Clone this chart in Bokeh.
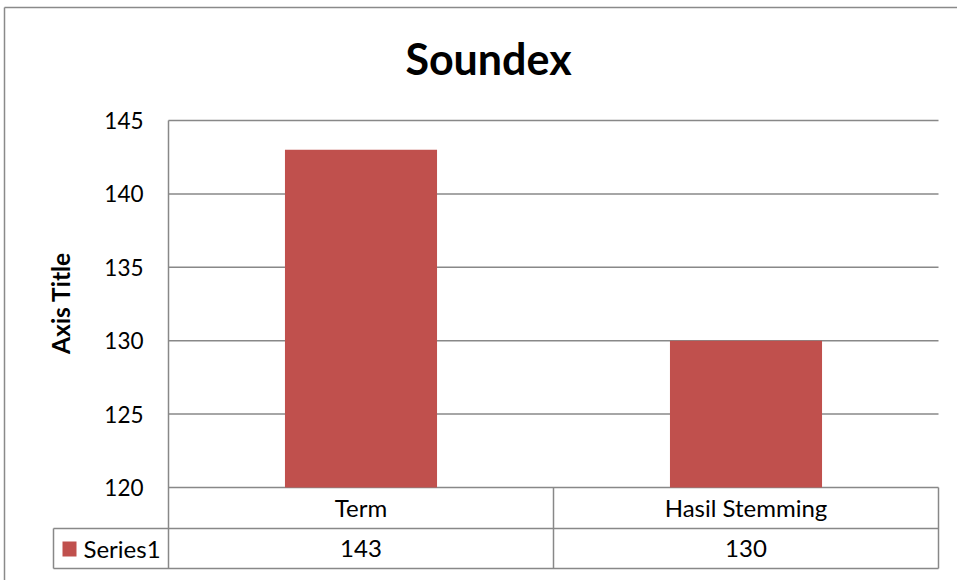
import math
from bokeh.plotting import figure
from bokeh.models import Range1d
from bokeh.core.properties import value
from bokeh.embed import file_html
from bokeh.resources import INLINE

categories = ["Term", "Hasil Stemming"]
values = [143, 130]
series_name = "Series1"
y_ticks = [120, 125, 130, 135, 140, 145]
title_text = "Soundex"
y_title = "Axis Title"

BAR = "#C0504D"
GRID = "#888888"
FONT = "Lato"

W, H = 957, 580

# layout helpers: map reference pixel positions to data coordinates
PX_X = 385.0                                 # pixels per category slot
PX_Y = 367.0 / (y_ticks[-1] - y_ticks[0])    # pixels per y unit
LEFT_PX, TOP_PX = 168.0, 120.0               # position of first category / top tick


def X(px):
    return (px - LEFT_PX) / PX_X


def Y(py):
    return y_ticks[-1] - (py - TOP_PX) / PX_Y


n = len(categories)
xc = [i + 0.5 for i in range(n)]

p = figure(width=W, height=H,
           x_range=Range1d(X(0), X(W)), y_range=Range1d(Y(H), Y(0)),
           output_backend="svg", toolbar_location=None,
           x_axis_location=None, y_axis_location=None,
           min_border=0)
p.outline_line_color = None
p.xgrid.visible = False
p.ygrid.visible = False
p.background_fill_color = "white"
p.border_fill_color = "white"

LW = 1.5

# gridlines
p.segment(x0=0, x1=n, y0=y_ticks, y1=y_ticks, line_color=GRID, line_width=LW)

# bars
p.vbar(x=xc, top=values, bottom=y_ticks[0], width=0.395, color=BAR, line_color=None)

# axis line + table lines
row1_bot, row2_bot = Y(528), Y(568)
left_col = X(53)
p.segment(x0=0, x1=0, y0=y_ticks[-1], y1=row2_bot, line_color=GRID, line_width=LW)
p.segment(x0=list(range(1, n + 1)), x1=list(range(1, n + 1)),
          y0=y_ticks[0], y1=row2_bot, line_color=GRID, line_width=LW)
p.segment(x0=[left_col, left_col], x1=[n, n], y0=[row1_bot, row2_bot], y1=[row1_bot, row2_bot],
          line_color=GRID, line_width=LW)
p.segment(x0=left_col, x1=left_col, y0=row1_bot, y1=row2_bot, line_color=GRID, line_width=LW)

# outer chart border
p.segment(x0=[X(4), X(4)], x1=[X(4), X(W + 5)], y0=[Y(7), Y(7)], y1=[Y(H + 5), Y(7)],
          line_color="#8a8a8a", line_width=LW)

# y tick labels
p.text(x=X(143), y=y_ticks, text=[str(t) for t in y_ticks],
       text_align="right", text_baseline="middle",
       text_font=value(FONT), text_font_size="22.5px", text_color="black")

# y axis title
p.text(x=[X(60)], y=[Y(302.5)], text=[y_title], angle=math.pi / 2,
       text_align="center", text_baseline="middle",
       text_font=value(FONT), text_font_size="24.5px", text_font_style="bold", text_color="black")

# table texts
p.text(x=xc, y=Y(507), text=categories, text_align="center", text_baseline="middle",
       text_font=value(FONT), text_font_size="24px", text_color="black")
p.text(x=xc, y=Y(548), text=[str(v) for v in values], text_align="center", text_baseline="middle",
       text_font=value(FONT), text_font_size="24px", text_color="black")

# legend key + series name
p.quad(left=[X(62)], right=[X(76)], top=[Y(541)], bottom=[Y(556)], color=BAR, line_color=None)
p.text(x=[X(83)], y=[Y(548)], text=[series_name], text_align="left", text_baseline="middle",
       text_font=value(FONT), text_font_size="24px", text_color="black")

# title
p.text(x=[X(488)], y=[Y(57.5)], text=[title_text], text_align="center", text_baseline="middle",
       text_font=value(FONT), text_font_size="43px", text_font_style="bold", text_color="black")

open("out.html", "w").write(file_html(p, INLINE))
